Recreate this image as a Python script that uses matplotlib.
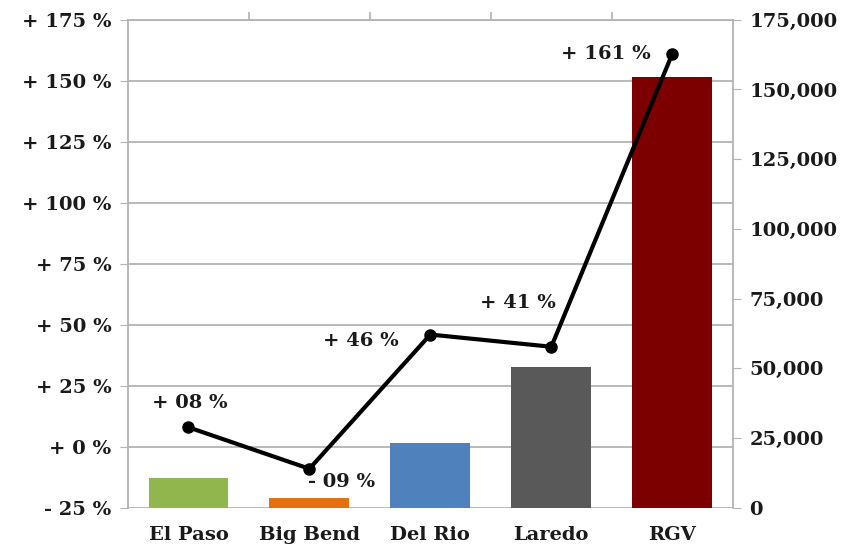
import matplotlib.pyplot as plt
import numpy as np

plt.rcParams["font.family"] = ["DejaVu Serif"]
plt.rcParams["font.weight"] = "bold"
plt.rcParams["text.color"] = "#1a1a1a"
plt.rcParams["xtick.labelcolor"] = "#1a1a1a"
plt.rcParams["ytick.labelcolor"] = "#1a1a1a"

regions = ["El Paso", "Big Bend", "Del Rio", "Laredo", "RGV"]
counts = [10800, 3600, 23400, 50400, 154500]
pct_change = [8, -9, 46, 41, 161]
pct_labels = ["+ 08 %", "- 09 %", "+ 46 %", "+ 41 %", "+ 161 %"]
bar_colors = ["#92b64e", "#e2720f", "#4f81bd", "#595959", "#7d0000"]

pct_ticks = [-25, 0, 25, 50, 75, 100, 125, 150, 175]
pct_ticklabels = ["- 25 %", "+ 0 %", "+ 25 %", "+ 50 %", "+ 75 %",
                  "+ 100 %", "+ 125 %", "+ 150 %", "+ 175 %"]
count_ticks = [0, 25000, 50000, 75000, 100000, 125000, 150000, 175000]

grey = "#b3b3b3"

fig = plt.figure(figsize=(8.53, 5.49), dpi=100)
# base axis: percent scale, grid and left ticks
ax = fig.add_axes([0.150, 0.075, 0.709, 0.889])
ax.set_ylim(-25, 175)
ax.set_xlim(-0.5, 4.5)
ax.set_yticks(pct_ticks)
ax.set_yticklabels(pct_ticklabels)
ax.grid(axis="y", color=grey, linewidth=1.3)
ax.tick_params(axis="y", direction="out", length=6, color=grey,
               labelsize=14, pad=6)
x = np.arange(len(regions))
ax.set_xticks(x)
ax.set_xticklabels(regions)
ax.set_xticks([0.5, 1.5, 2.5, 3.5], minor=True)
ax.tick_params(axis="x", which="major", length=0, pad=13, labelsize=14)
ax.tick_params(axis="x", which="minor", top=True, bottom=False,
               direction="out", length=6, color=grey, width=1.2)
for side in ["top", "left", "right"]:
    ax.spines[side].set_color(grey)
    ax.spines[side].set_linewidth(1.3)
ax.spines["bottom"].set_visible(False)

# bars on the count axis (right)
axb = ax.twinx()
axb.bar(x, counts, width=0.66, color=bar_colors)
axb.set_ylim(0, 175000)
axb.set_yticks(count_ticks)
axb.set_yticklabels([f"{v:,}" for v in count_ticks])
axb.tick_params(axis="y", direction="out", length=6, color=grey,
                labelsize=14, pad=6)
for side in axb.spines:
    axb.spines[side].set_visible(False)

# percent change line on top
axl = ax.twinx()
axl.plot(x, pct_change, color="black", linewidth=3, marker="o",
         markersize=8)
axl.set_ylim(ax.get_ylim())
axl.set_yticks([])
for side in axl.spines:
    axl.spines[side].set_visible(False)

offsets = [(1, 24), (32, -13), (-69, -6), (-33, 44), (-66, 0)]
for xi, yi, lab, (dx, dy) in zip(x, pct_change, pct_labels, offsets):
    axl.annotate(lab, (xi, yi), xytext=(dx, dy), textcoords="offset pixels",
                 ha="center", va="center", fontsize=14, fontweight="bold")

fig.savefig("out.png", dpi=100)
